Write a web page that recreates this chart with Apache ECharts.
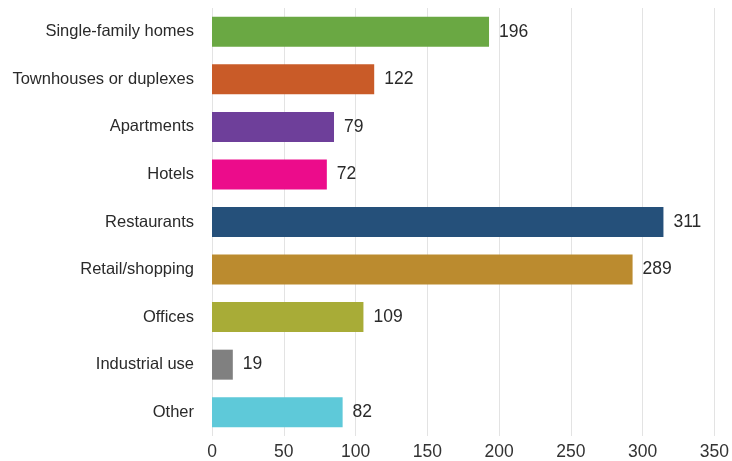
<!DOCTYPE html>
<html>
<head>
<meta charset="utf-8">
<script src="https://cdn.jsdelivr.net/npm/echarts@6/dist/echarts.min.js"></script>
<style>html,body{margin:0;padding:0;background:#fff;}#c{width:732px;height:461px;}</style>
</head>
<body>
<div id="c"></div>
<script>
// Categories (top to bottom)
const categories = ["Single-family homes","Townhouses or duplexes","Apartments","Hotels","Restaurants","Retail/shopping","Offices","Industrial use","Other"];
const barLengths = [193, 113, 85, 80, 314.5, 293, 105.5, 14.5, 91];
// Value labels as printed next to each bar
const printedValues = [196, 122, 79, 72, 311, 289, 109, 19, 82];
const barColors = ["#6aa843","#c95b28","#6e3f9a","#ec0c8b","#25507a","#bb8b2f","#a8ac37","#808080","#5ec9d9"];
const xTicks = [0, 50, 100, 150, 200, 250, 300, 350];

const chart = echarts.init(document.getElementById('c'));
chart.setOption({
  animation: false,
  grid: {left: 212, right: 16, top: 8, bottom: 23, containLabel: false},
  xAxis: {
    type: 'value', min: xTicks[0], max: xTicks[xTicks.length-1], interval: 50,
    axisLine: {show: false}, axisTick: {show: false},
    splitLine: {show: true, lineStyle: {color: '#e3e3e3', width: 1}},
    axisLabel: {color: '#333', fontSize: 17.5, fontFamily: 'Liberation Sans, Arial, sans-serif', margin: 7}
  },
  yAxis: {
    type: 'category', data: categories, inverse: true,
    axisLine: {show: false}, axisTick: {show: false},
    axisLabel: {color: '#2a2a2a', fontSize: 16.5, fontFamily: 'Liberation Sans, Arial, sans-serif', margin: 18}
  },
  series: [{
    type: 'bar', barWidth: 30,
    data: barLengths.map((v, i) => ({value: v, itemStyle: {color: barColors[i]}})),
    label: {
      show: true, position: 'right', distance: 10,
      color: '#2a2a2a', fontSize: 17.5, fontFamily: 'Liberation Sans, Arial, sans-serif',
      formatter: p => String(printedValues[p.dataIndex])
    }
  }]
});
</script>
</body>
</html>
